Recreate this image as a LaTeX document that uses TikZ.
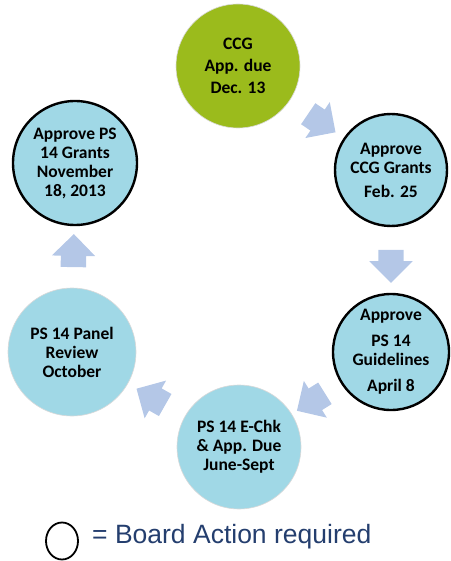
\documentclass[tikz,border=0pt]{standalone}
\usepackage{fontspec}
\setmainfont{Carlito}
\newfontfamily\legendfont{Liberation Sans}
\usetikzlibrary{shapes.arrows,shapes.geometric}
\definecolor{ccggreen}{RGB}{155,187,28}
\definecolor{stageblue}{RGB}{160,216,230}
\definecolor{arrowblue}{RGB}{180,199,231}
\definecolor{legendblue}{RGB}{36,62,110}
\tikzset{
  stage/.style={circle, fill=stageblue, draw=black, line width=2.4pt, inner sep=0pt,
    align=center, font=\bfseries\fontsize{17.5}{19}\selectfont},
  plainstage/.style={stage, draw=black!15, line width=0.6pt},
  flowarrow/.style={single arrow, fill=arrowblue, draw=none, minimum height=33pt,
    inner xsep=0pt, inner ysep=12.5pt, single arrow head extend=9pt,
    sloped, allow upside down},
}

\begin{document}
\begin{tikzpicture}[x=1pt, y=-1pt]
  \useasboundingbox (0,0) rectangle (450,561);
  % Stages
  \node[plainstage, fill=ccggreen, minimum size=124pt] (ccg) at (238,66)
    {CCG\\[3pt] App. due\\[3pt] Dec. 13};
  \node[stage, minimum size=112pt] (ccggrants) at (391,170)
    {Approve\\CCG Grants\\[5pt] Feb. 25};
  \node[stage, minimum size=116pt] (guidelines) at (391,352)
    {Approve\\[7pt] PS 14\\Guidelines\\[7pt] April 8};
  \node[plainstage, minimum size=124pt] (echk) at (239,447)
    {PS 14 E-Chk\\\& App. Due\\June-Sept};
  \node[plainstage, minimum size=128pt] (panel) at (72,352)
    {PS 14 Panel\\Review\\October};
  \node[stage, minimum size=124pt] (psgrants) at (75,163)
    {Approve PS\\14 Grants\\November\\18, 2013};
  % Arrows
  \path (ccg) -- node[flowarrow] (a1) {} (ccggrants);
  \path (ccggrants) -- node[flowarrow] (a2) {} (guidelines);
  \path (guidelines) -- node[flowarrow] (a3) {} (echk);
  \path (echk) -- node[flowarrow] (a4) {} (panel);
  \path (panel) -- node[flowarrow] (a5) {} (psgrants);
  % Legend
  \node[ellipse, draw, line width=1.8pt, minimum width=32pt, minimum height=37pt]
    (legcirc) at (62,541) {};
  \node[anchor=base west, inner sep=0pt, text=legendblue,
    font=\legendfont\fontsize{26.5}{30}\selectfont] (legtext) at (92,543)
    {= Board Action required};
\end{tikzpicture}
\end{document}
